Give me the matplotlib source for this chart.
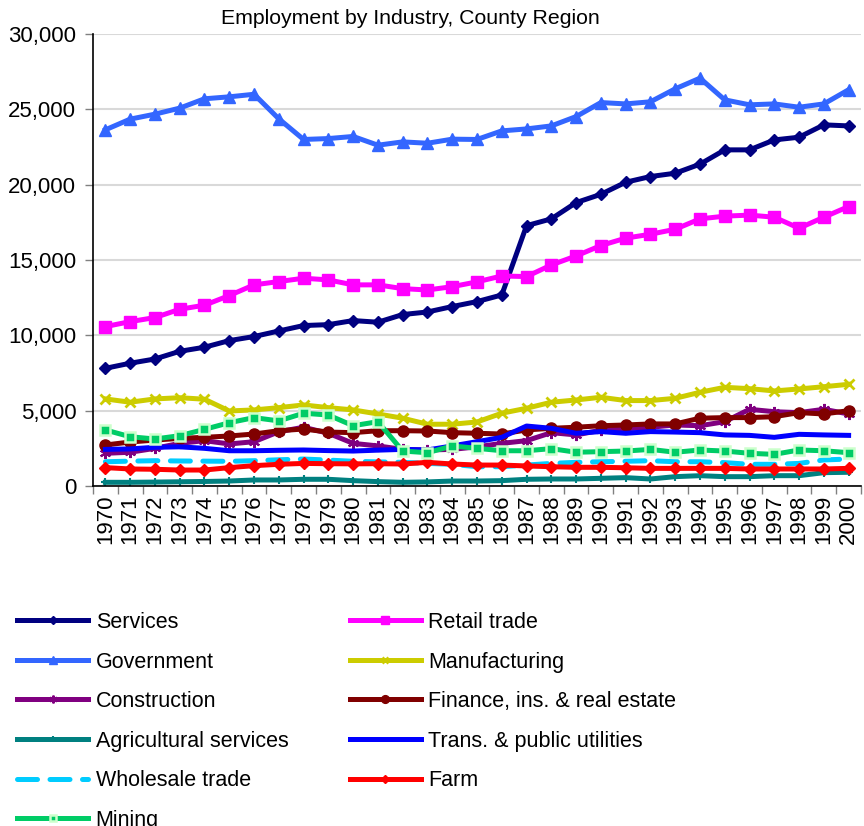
import numpy as np
import matplotlib
matplotlib.use('Agg')
import matplotlib.pyplot as plt
from matplotlib.ticker import FuncFormatter, FixedLocator

plt.rcParams['font.family'] = ['Liberation Sans', 'DejaVu Sans']
plt.rcParams['font.size'] = 15.5

# data (jobs, county region)
years = list(range(1970, 2001))
services = [7810, 8150, 8430, 8940, 9210, 9650, 9920, 10290, 10650, 10710, 10980, 10870, 11380, 11550, 11910, 12240,
            12680, 17280, 17730, 18810, 19360, 20160, 20540, 20760, 21360, 22310, 22310, 22970, 23150, 23970, 23900]
retail = [10580, 10910, 11180, 11730, 12000, 12640, 13350, 13570, 13790, 13680, 13350, 13350, 13100, 13010, 13230, 13550,
          13940, 13900, 14670, 15270, 15960, 16450, 16710, 17040, 17730, 17910, 17980, 17840, 17110, 17840, 18550]
government = [23640, 24350, 24680, 25080, 25700, 25830, 26000, 24370, 23000, 23060, 23200, 22620, 22840, 22750, 23020, 23000,
              23570, 23700, 23900, 24520, 25450, 25360, 25500, 26360, 27070, 25630, 25300, 25360, 25140, 25360, 26300]
manufacturing = [5780, 5560, 5780, 5860, 5760, 4980, 5050, 5200, 5380, 5200, 5050, 4780, 4500, 4100, 4100, 4250,
                 4830, 5160, 5560, 5710, 5890, 5670, 5670, 5820, 6220, 6550, 6460, 6310, 6440, 6590, 6750]
construction = [2170, 2240, 2500, 2830, 3010, 2790, 2940, 3600, 3900, 3500, 2830, 2660, 2430, 2390, 2430, 2600,
                2830, 3010, 3540, 3390, 3700, 3800, 3900, 4050, 4000, 4270, 5090, 4930, 4870, 5090, 4780]
finance = [2720, 2920, 3050, 3160, 3230, 3320, 3450, 3670, 3780, 3580, 3540, 3670, 3670, 3650, 3540, 3500,
           3450, 3720, 3830, 3900, 4000, 4050, 4120, 4120, 4500, 4540, 4540, 4600, 4870, 4780, 5000]
agricultural = [245, 245, 260, 280, 300, 330, 400, 400, 445, 445, 355, 290, 245, 270, 330, 330,
                355, 445, 465, 465, 510, 555, 465, 620, 685, 620, 620, 685, 685, 885, 910]
trans = [2430, 2460, 2570, 2600, 2500, 2340, 2340, 2370, 2390, 2350, 2320, 2380, 2430, 2390, 2660, 2940,
         3230, 3980, 3830, 3500, 3610, 3500, 3610, 3580, 3540, 3390, 3360, 3230, 3430, 3390, 3360]
wholesale = [1610, 1650, 1680, 1660, 1650, 1640, 1680, 1740, 1790, 1720, 1640, 1600, 1570, 1500, 1440, 1280,
             1280, 1390, 1500, 1570, 1610, 1640, 1680, 1610, 1610, 1550, 1440, 1440, 1500, 1730, 1790]
farm = [1220, 1130, 1110, 1060, 1060, 1220, 1350, 1440, 1500, 1480, 1470, 1480, 1460, 1570, 1460, 1390,
        1390, 1330, 1280, 1240, 1240, 1210, 1170, 1170, 1170, 1170, 1130, 1130, 1130, 1130, 1170]
mining = [3720, 3270, 3120, 3340, 3760, 4200, 4540, 4320, 4830, 4710, 4000, 4270, 2320, 2210, 2660, 2500,
          2340, 2340, 2480, 2240, 2280, 2320, 2430, 2240, 2390, 2320, 2170, 2100, 2390, 2340, 2210]

fig = plt.figure(figsize=(8.64, 8.26), dpi=100)
ax = fig.add_axes([93 / 864, 1 - 486 / 826, (861 - 93) / 864, (486 - 34) / 826])

x = np.arange(len(years))
lw = 3.6

l_serv, = ax.plot(x, services, color='#000080', lw=lw, marker='D', ms=6.5, label='Services')
l_ret, = ax.plot(x, retail, color='#FF00FF', lw=lw, marker='s', ms=8, label='Retail trade')
l_gov, = ax.plot(x, government, color='#3366FF', lw=lw, marker='^', ms=9, label='Government')
l_man, = ax.plot(x, manufacturing, color='#CCCC00', lw=lw, marker='x', ms=7, mew=2, label='Manufacturing')
l_con, = ax.plot(x, construction, color='#800080', lw=lw, marker=(6, 2, 0), ms=8, mew=1.5, label='Construction')
l_fin, = ax.plot(x, finance, color='#800000', lw=lw, marker='o', ms=8, label='Finance, ins. & real estate')
l_agr, = ax.plot(x, agricultural, color='#008080', lw=lw, marker='+', ms=6, mew=1.5, label='Agricultural services')
l_tra, = ax.plot(x, trans, color='#0000FF', lw=lw, label='Trans. & public utilities')
l_who, = ax.plot(x, wholesale, color='#00CCFF', lw=lw, ls=(0, (4, 2.5)), dash_capstyle='round',
                 label='Wholesale trade')
l_farm, = ax.plot(x, farm, color='#FF0000', lw=lw, marker='D', ms=6, label='Farm')
l_min, = ax.plot(x, mining, color='#00CC66', lw=lw, marker='s', ms=7, mec='#CCFFCC', mew=1.8, label='Mining')

ax.set_xlim(-0.5, len(years) - 0.5)
ax.set_ylim(0, 30000)
ax.set_yticks(np.arange(0, 30001, 5000))
ax.yaxis.set_major_formatter(FuncFormatter(lambda v, p: f'{int(v):,}'))
ax.yaxis.grid(True, color='#D9D9D9', lw=1.5)
ax.set_axisbelow(True)

ax.set_xticks(x)
ax.set_xticklabels([str(y) for y in years], rotation=90, fontsize=16)
ax.xaxis.set_minor_locator(FixedLocator(np.arange(-0.5, len(years), 1)))
ax.tick_params(axis='x', which='major', length=0, pad=6)
ax.tick_params(axis='x', which='minor', length=6, width=1, color='#808080')
ax.tick_params(axis='y', length=6, width=1, color='#808080', pad=6, labelsize=16)

for s in ['top', 'right']:
    ax.spines[s].set_visible(False)
for s in ['left', 'bottom']:
    ax.spines[s].set_color('black')
    ax.spines[s].set_linewidth(1.2)

fig.text(410 / 864, 1 - 18 / 826, 'Employment by Industry, County Region', ha='center', va='center', fontsize=15.3)

# legend: two columns, filled row by row in the original
handles = [l_serv, l_gov, l_con, l_agr, l_who, l_min, l_ret, l_man, l_fin, l_tra, l_farm]
fig.legend(handles=handles, labels=[h.get_label() for h in handles],
           loc='upper left', bbox_to_anchor=(17 / 864, 1 - 612 / 826), ncol=2, frameon=False,
           borderpad=0, borderaxespad=0, handlelength=3.3, handletextpad=0.35, columnspacing=2.85,
           labelspacing=0.86, markerscale=0.7)

plt.savefig('out.png', dpi=100)
